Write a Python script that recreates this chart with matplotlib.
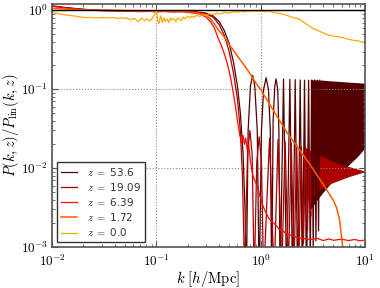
"""
Nonlinear / linear power spectrum ratio at several redshifts.
"""

import numpy as np
import matplotlib
matplotlib.use('Agg')
import matplotlib.pyplot as plt
from matplotlib.ticker import FixedLocator, FixedFormatter, LogLocator, NullFormatter

plt.rcParams['mathtext.fontset'] = 'cm'
plt.rcParams['font.family'] = ['DejaVu Sans']

# redshift labels and line colours (hot colormap)
z_labels = ['53.6', '19.09', '6.39', '1.72', '0.0']
z_colors = ['#540000', '#ab0000', '#ff0800', '#ff5a00', '#ffa800']

# z = 53.6 : smooth part, drop, first arches
k_536 = [0.010, 0.013, 0.017, 0.022, 0.030, 0.050, 0.080, 0.100, 0.130, 0.170, 0.200,
         0.250, 0.300, 0.350, 0.400, 0.450, 0.500, 0.550, 0.600, 0.640, 0.680, 0.710, 0.730,
         0.760, 0.800, 0.840, 0.880, 0.930, 0.970,
         1.020, 1.070, 1.130, 1.190, 1.240, 1.280,
         1.320, 1.370, 1.410, 1.460, 1.500, 1.540,
         1.660, 1.780, 1.910, 2.030, 2.150, 2.270, 2.400, 2.520, 2.640, 2.760, 2.890, 3.000,
         3.100, 3.200, 3.300, 3.400, 3.500, 3.600, 3.700]
p_536 = [1.14, 1.09, 1.05, 1.02, 1.00, 0.99, 0.98, 0.99, 0.97, 0.98, 0.97,
         0.95, 0.92, 0.85, 0.72, 0.55, 0.38, 0.22, 0.11, 0.05, 0.015, 0.003, 0.0003,
         0.03, 0.11, 0.15, 0.11, 0.03, 0.0003,
         0.03, 0.10, 0.14, 0.10, 0.03, 0.0003,
         0.04, 0.11, 0.135, 0.10, 0.03, 0.0003,
         0.135, 0.0003, 0.133, 0.0003, 0.132, 0.0003, 0.131, 0.0003, 0.13, 0.0003, 0.13, 0.0006,
         0.131, 0.0009, 0.131, 0.0012, 0.13, 0.0016, 0.13]
# z = 53.6 : dense oscillation region (envelopes)
k_536_band = [3.0, 3.5, 4.0, 4.5, 5.5, 7.0, 8.5, 10.0]
hi_536_band = [0.132, 0.131, 0.13, 0.128, 0.126, 0.123, 0.121, 0.119]
lo_536_band = [0.003, 0.004, 0.005, 0.006, 0.008, 0.011, 0.014, 0.018]

# z = 19.09
k_1909 = [0.010, 0.013, 0.017, 0.022, 0.030, 0.050, 0.070, 0.100, 0.130, 0.170, 0.200,
          0.250, 0.300, 0.350, 0.400, 0.450, 0.500, 0.550, 0.600, 0.640, 0.670, 0.690, 0.700,
          0.750, 0.790, 0.830, 0.870, 0.920, 0.970, 1.020, 1.070,
          1.220, 1.350, 1.470, 1.600, 1.720, 1.850, 1.970, 2.100, 2.220, 2.340, 2.460, 2.580,
          2.700, 2.820, 2.940, 3.050]
p_1909 = [1.13, 1.08, 1.04, 1.01, 0.99, 0.98, 0.97, 0.98, 0.96, 0.97, 0.96,
          0.94, 0.9, 0.82, 0.66, 0.48, 0.30, 0.16, 0.075, 0.03, 0.008, 0.0015, 0.0004,
          0.015, 0.03, 0.015, 0.0004, 0.012, 0.025, 0.012, 0.0004,
          0.024, 0.0004, 0.023, 0.0005, 0.022, 0.0005, 0.021, 0.0006, 0.020, 0.0008, 0.019, 0.0011,
          0.018, 0.0016, 0.017, 0.0025]
k_1909_band = [2.6, 3.15, 4.0, 5.0, 7.0, 10.0]
hi_1909_band = [0.019, 0.016, 0.014, 0.012, 0.0105, 0.0092]
lo_1909_band = [0.0035, 0.0046, 0.0058, 0.0066, 0.0078, 0.0090]

# z = 6.39
k_639 = [0.010, 0.013, 0.017, 0.022, 0.030, 0.050, 0.070, 0.090, 0.100, 0.120, 0.150, 0.180,
         0.200, 0.230, 0.260, 0.300, 0.330, 0.360, 0.390, 0.420, 0.450, 0.480, 0.510, 0.540,
         0.570, 0.600, 0.630, 0.655, 0.680, 0.700, 0.720, 0.745, 0.770, 0.800, 0.830, 0.860,
         0.900, 0.940, 0.970, 1.000, 1.050, 1.100, 1.150, 1.200, 1.300, 1.400, 1.500, 1.650,
         1.800, 2.000, 2.300, 2.600, 3.000, 3.500, 4.000, 4.500, 5.000, 6.000, 7.000, 8.000,
         9.000, 10.00]
p_639 = [1.12, 1.08, 1.04, 1.01, 0.99, 0.98, 0.96, 0.97, 0.95, 0.97, 0.95, 0.96,
         0.94, 0.92, 0.90, 0.82, 0.72, 0.60, 0.45, 0.36, 0.28, 0.21, 0.15, 0.10,
         0.065, 0.040, 0.027, 0.021, 0.026, 0.020, 0.024, 0.017, 0.020, 0.012, 0.009, 0.0075,
         0.0065, 0.006, 0.0048, 0.0042, 0.0034, 0.0029, 0.0026, 0.0023, 0.0021, 0.0019, 0.0017, 0.0016,
         0.00145, 0.0014, 0.00132, 0.00128, 0.00125, 0.00129, 0.00121, 0.00127, 0.00122, 0.00126, 0.00121, 0.00125,
         0.00120, 0.00123]

# z = 1.72
k_172 = [0.010, 0.015, 0.020, 0.030, 0.050, 0.080, 0.100, 0.150, 0.200, 0.250, 0.300, 0.330,
         0.363, 0.400, 0.450, 0.483, 0.550, 0.630, 0.700, 0.800, 0.900, 1.000, 1.200, 1.400,
         1.600, 1.770, 2.000, 2.360, 3.000, 4.000, 5.000, 5.340, 5.700, 6.100, 6.300]
p_172 = [1.06, 1.03, 1.01, 1.00, 0.99, 0.98, 0.98, 0.97, 0.96, 0.93, 0.87, 0.78,
         0.66, 0.55, 0.46, 0.39, 0.31, 0.24, 0.20, 0.155, 0.12, 0.10, 0.067, 0.048,
         0.036, 0.029, 0.023, 0.017, 0.011, 0.0062, 0.0039, 0.0032, 0.0023, 0.0011, 0.0007]

# z = 0.0
k_000 = [0.010, 0.011, 0.012, 0.0135, 0.015, 0.017, 0.019, 0.021, 0.024, 0.027, 0.030, 0.034,
         0.038, 0.042, 0.047, 0.052, 0.057, 0.062, 0.067, 0.072, 0.077, 0.082, 0.087, 0.092,
         0.097, 0.100, 0.103, 0.106, 0.110, 0.114, 0.118, 0.122, 0.127, 0.132, 0.137, 0.142,
         0.148, 0.154, 0.160, 0.167, 0.174, 0.181, 0.190, 0.200, 0.210, 0.220, 0.230, 0.240,
         0.260, 0.280, 0.300, 0.320, 0.350, 0.380, 0.410, 0.450, 0.500, 0.550, 0.600, 0.650,
         0.700, 0.750, 0.800, 0.850, 0.900, 1.000, 1.100, 1.200, 1.300, 1.400, 1.500, 1.700,
         1.900, 2.100, 2.360, 2.700, 3.100, 3.600, 4.200, 5.000, 5.700, 6.500, 7.500, 8.500,
         10.00]
p_000 = [0.93, 0.92, 0.90, 0.87, 0.86, 0.84, 0.82, 0.81, 0.81, 0.80, 0.81, 0.80,
         0.81, 0.79, 0.80, 0.79, 0.76, 0.79, 0.72, 0.80, 0.74, 0.78, 0.73, 0.80,
         0.90, 1.02, 0.75, 0.68, 0.85, 0.70, 0.80, 0.72, 0.78, 0.70, 0.80, 0.75,
         0.78, 0.72, 0.80, 0.77, 0.74, 0.82, 0.78, 0.84, 0.80, 0.85, 0.81, 0.86,
         0.84, 0.88, 0.86, 0.90, 0.88, 0.92, 0.90, 0.94, 0.92, 0.96, 0.94, 0.97,
         0.95, 0.98, 0.96, 0.99, 0.97, 0.98, 0.96, 0.97, 0.95, 0.93, 0.92, 0.88,
         0.84, 0.80, 0.77, 0.68, 0.60, 0.55, 0.50, 0.47, 0.46, 0.44, 0.42, 0.41,
         0.39]

xtick_vals = [1e-2, 1e-1, 1e0, 1e1]
xtick_labels = [r'$10^{-2}$', r'$10^{-1}$', r'$10^{0}$', r'$10^{1}$']
ytick_vals = [1e-3, 1e-2, 1e-1, 1e0]
ytick_labels = [r'$10^{-3}$', r'$10^{-2}$', r'$10^{-1}$', r'$10^{0}$']

fig = plt.figure(figsize=(3.8, 2.88), dpi=100)
ax = fig.add_axes([0.137, 0.142, 0.823, 0.844])

lw = 0.9
ax.plot(k_536, p_536, color=z_colors[0], lw=lw, label=r'$z\ =$ ' + z_labels[0])
ax.fill_between(k_536_band, lo_536_band, hi_536_band, color=z_colors[0], lw=0)
ax.plot(k_1909, p_1909, color=z_colors[1], lw=lw, label=r'$z\ =$ ' + z_labels[1])
ax.fill_between(k_1909_band, lo_1909_band, hi_1909_band, color=z_colors[1], lw=0)
ax.plot(k_639, p_639, color=z_colors[2], lw=lw, label=r'$z\ =$ ' + z_labels[2])
ax.plot(k_172, p_172, color=z_colors[3], lw=1.1, label=r'$z\ =$ ' + z_labels[3])
ax.plot(k_000, p_000, color=z_colors[4], lw=lw, label=r'$z\ =$ ' + z_labels[4])

ax.axhline(1.0, color='black', lw=1.0, zorder=5)

ax.set_xscale('log')
ax.set_yscale('log')
ax.set_xlim(1e-2, 1e1)
ax.set_ylim(1e-3, 1.2)

ax.xaxis.set_major_locator(FixedLocator(xtick_vals))
ax.xaxis.set_major_formatter(FixedFormatter(xtick_labels))
ax.yaxis.set_major_locator(FixedLocator(ytick_vals))
ax.yaxis.set_major_formatter(FixedFormatter(ytick_labels))
ax.xaxis.set_minor_locator(LogLocator(base=10, subs=np.arange(2, 10), numticks=20))
ax.yaxis.set_minor_locator(LogLocator(base=10, subs=np.arange(2, 10), numticks=20))
ax.xaxis.set_minor_formatter(NullFormatter())
ax.yaxis.set_minor_formatter(NullFormatter())

ax.tick_params(which='both', direction='in', top=True, right=True, labelsize=9.5,
               color='#555555')
ax.tick_params(which='major', length=4, width=0.8)
ax.tick_params(which='minor', length=2, width=0.6)
ax.tick_params(axis='x', pad=4.5)
ax.tick_params(axis='y', pad=3)
for sp in ax.spines.values():
    sp.set_color('#555555')
    sp.set_linewidth(1.2)

ax.grid(True, which='major', ls=':', color='#888888', lw=0.8)

ax.set_xlabel(r'$k\ [h/{\rm Mpc}]$', fontsize=10.5, labelpad=0)
ax.set_ylabel(r'$P(k,z)/P_{\rm lin}(k,z)$', fontsize=10.5, labelpad=0)

leg = ax.legend(loc='lower left', fontsize=7.5, frameon=True, fancybox=False,
                handlelength=1.5, handletextpad=1.0, labelspacing=0.3,
                borderaxespad=0.45, framealpha=1.0)
leg.get_frame().set_edgecolor('#333333')
leg.get_frame().set_linewidth(1.0)
for t in leg.get_texts():
    t.set_color('#333333')

plt.savefig('out.png', dpi=100)
